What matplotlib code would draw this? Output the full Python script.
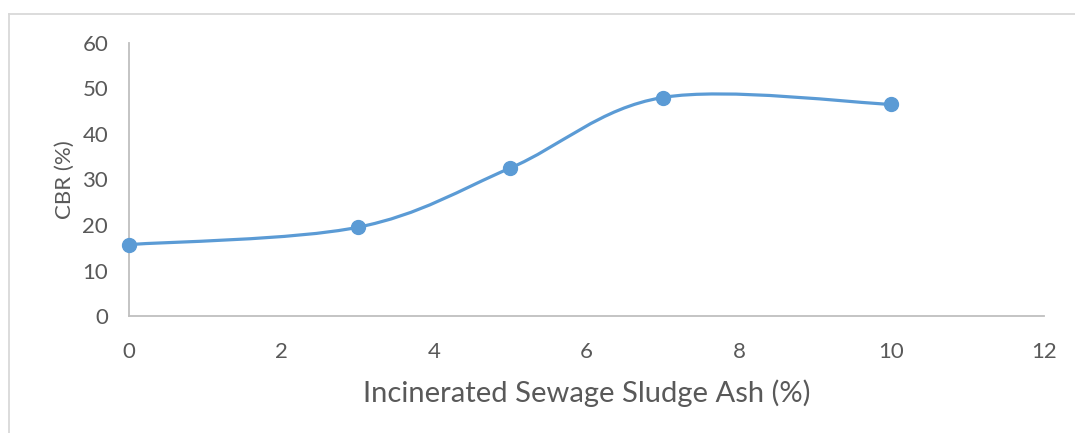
import matplotlib.pyplot as plt
from matplotlib.path import Path
from matplotlib.patches import PathPatch
from matplotlib.lines import Line2D

ssa = [0, 3, 5, 7, 10]
cbr = [15.7, 19.5, 32.5, 48.0, 46.5]
xticks = [0, 2, 4, 6, 8, 10, 12]
yticks = [0, 10, 20, 30, 40, 50, 60]

blue = '#5B9BD5'
grey_txt = '#595959'
grey_ax = '#BFBFBF'

plt.rcParams['font.family'] = ['Lato', 'DejaVu Sans']

fig = plt.figure(figsize=(10.75, 4.33), dpi=100)
ax = fig.add_axes([0.12, 0.27, 0.851, 0.631])

# smoothed line like Excel (Catmull-Rom as cubic bezier segments)
pts = list(zip(ssa, cbr))
verts = [pts[0]]
codes = [Path.MOVETO]
for i in range(len(pts) - 1):
    p0 = pts[i - 1] if i > 0 else pts[i]
    p1 = pts[i]
    p2 = pts[i + 1]
    p3 = pts[i + 2] if i + 2 < len(pts) else pts[i + 1]
    c1 = (p1[0] + (p2[0] - p0[0]) / 6, p1[1] + (p2[1] - p0[1]) / 6)
    c2 = (p2[0] - (p3[0] - p1[0]) / 6, p2[1] - (p3[1] - p1[1]) / 6)
    verts += [c1, c2, p2]
    codes += [Path.CURVE4] * 3
ax.add_patch(PathPatch(Path(verts, codes), fill=False, edgecolor=blue,
                       linewidth=2.3, capstyle='round', zorder=2))
ax.plot(ssa, cbr, linestyle='none', marker='o', markersize=10,
        color=blue, zorder=3, clip_on=False)

ax.set_xlim(0, 12)
ax.set_ylim(0, 60)
ax.set_xticks(xticks)
ax.set_yticks(yticks)
ax.tick_params(length=0, labelsize=16, labelcolor=grey_txt)
ax.tick_params(axis='x', pad=19)
ax.tick_params(axis='y', pad=15)
for s in ['top', 'right']:
    ax.spines[s].set_visible(False)
for s in ['left', 'bottom']:
    ax.spines[s].set_color(grey_ax)
    ax.spines[s].set_linewidth(1.3)

ax.set_xlabel("Incinerated Sewage Sludge Ash (%)", fontsize=21,
              color=grey_txt, labelpad=12)
ax.set_ylabel("CBR (%)", fontsize=16, color=grey_txt, labelpad=5)

# chart frame
fig.add_artist(Line2D([9 / 1075, 9 / 1075], [0, 1 - 13.5 / 433],
                      transform=fig.transFigure, color='#D9D9D9', lw=1.3))
fig.add_artist(Line2D([9 / 1075, 1], [1 - 13.5 / 433, 1 - 13.5 / 433],
                      transform=fig.transFigure, color='#D9D9D9', lw=1.3))

fig.savefig('out.png', dpi=100)
